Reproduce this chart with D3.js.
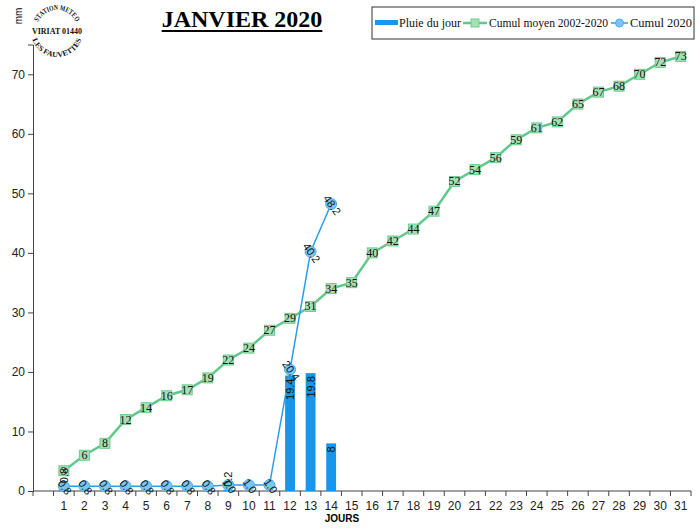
<!DOCTYPE html>
<html><head><meta charset="utf-8">
<script src="https://cdn.jsdelivr.net/npm/d3@7"></script>
<style>body{margin:0;background:#fff}svg{display:block}</style>
</head><body><svg id="c" width="700" height="530"></svg>
<script>
const days = ["1","2","3","4","5","6","7","8","9","10","11","12","13","14","15","16","17","18","19","20","21","22","23","24","25","26","27","28","29","30","31"];
const rain = [0.8,null,null,null,null,null,null,null,0.2,null,null,19.4,19.8,8,null,null,null,null,null,null,null,null,null,null,null,null,null,null,null,null,null];
const cumulMoyen = [3.4,6,8,12,14,16,17,19,22,24,27,29,31,34,35,40,42,44,47,52,54,56,59,61,62,65,67,68,70,72,73];
const cumul2020 = [0.8,0.8,0.8,0.8,0.8,0.8,0.8,0.8,1.0,1.0,1.0,20.4,40.2,48.2];
const yTicks = [0,10,20,30,40,50,60,70];
const title = "JANVIER 2020";
const legendLabels = ["Pluie du jour","Cumul moyen 2002-2020","Cumul 2020"];
const logoTexts = ["STATION METEO","VIRIAT 01440","LES FAUVETTES"];

const svg = d3.select("#c");
const L=33, R=691, B=491, yMax=75, pxPerUnit=5.953;
const x = d3.scaleBand().domain([""].concat(days)).range([L,R]).padding(0);
const y = d3.scaleLinear().domain([0,yMax]).range([B, B - yMax*pxPerUnit]);
const cx = d => x(d) + x.bandwidth()/2;

const blue="#1696ec", blueLine="#2a9de8", blueFill="#78c6f2", green="#5fc98b", greenFill="#a4e0b4", greenStroke="#6fcc90";

// Axes
const yAxis = d3.axisLeft(y).tickValues(yTicks).tickSize(5).tickPadding(3).tickFormat(d3.format("d"));
const gy = svg.append("g").attr("transform",`translate(${L},0)`).call(yAxis);
gy.select(".domain").attr("stroke","#444");
gy.selectAll(".tick line").attr("stroke","#444");
gy.selectAll("text").attr("font-family","Liberation Sans, Arial").attr("font-size",12).attr("fill","#222");

const gx = svg.append("g").attr("transform",`translate(0,${B})`);
gx.append("line").attr("x1",L).attr("x2",R).attr("stroke","#444");
const bounds = x.domain().map(d=>x(d)).concat([R]);
gx.selectAll("line.t").data(bounds).join("line").attr("class","t")
  .attr("x1",d=>d).attr("x2",d=>d).attr("y1",0).attr("y2",5).attr("stroke","#444");
gx.selectAll("text").data(days).join("text")
  .attr("x",d=>cx(d)).attr("y",19).attr("text-anchor","middle")
  .attr("font-family","Liberation Sans, Arial").attr("font-size",12).attr("fill","#222").text(d=>d);

svg.append("text").attr("x",342).attr("y",522).attr("text-anchor","middle")
  .attr("font-family","Liberation Sans, Arial").attr("font-weight","bold").attr("font-size",10).text("JOURS");
svg.append("text").attr("transform","translate(22,16) rotate(-90)").attr("text-anchor","middle")
  .attr("font-family","Liberation Sans, Arial").attr("font-size",10).text("mm");

// Bars
const barData = days.map((d,i)=>({d,v:rain[i]})).filter(o=>o.v!=null);
const bw = x.bandwidth()*0.48;
svg.append("g").selectAll("rect").data(barData).join("rect")
  .attr("x",o=>cx(o.d)-bw/2).attr("width",bw)
  .attr("y",o=>y(o.v)).attr("height",o=>B-y(o.v)).attr("fill",blue);

// Green line
const gdata = days.map((d,i)=>({d,v:cumulMoyen[i]}));
svg.append("path").datum(gdata).attr("fill","none").attr("stroke",green).attr("stroke-width",2.5)
  .attr("d",d3.line().x(o=>cx(o.d)).y(o=>y(o.v)));
svg.append("g").selectAll("rect").data(gdata).join("rect")
  .attr("x",o=>cx(o.d)-5).attr("y",o=>y(o.v)-5).attr("width",10).attr("height",10)
  .attr("fill",greenFill).attr("stroke",greenStroke).attr("stroke-width",1);

// Blue line
const bdata = cumul2020.map((v,i)=>({d:days[i],v}));
svg.append("path").datum(bdata).attr("fill","none").attr("stroke",blueLine).attr("stroke-width",1.5)
  .attr("d",d3.line().x(o=>cx(o.d)).y(o=>y(o.v)));
svg.append("g").selectAll("circle").data(bdata).join("circle")
  .attr("cx",o=>cx(o.d)).attr("cy",o=>y(o.v)).attr("r",5.5)
  .attr("fill",blueFill).attr("stroke","#4aaeea").attr("stroke-width",1);

// Labels
svg.append("g").selectAll("text").data(gdata).join("text")
  .attr("x",o=>cx(o.d)).attr("y",o=>y(o.v)+4).attr("text-anchor","middle")
  .attr("font-family","Liberation Serif, Times New Roman").attr("font-size",12).attr("fill","#111")
  .text(o=>d3.format(".0f")(o.v));
svg.append("g").selectAll("text").data(bdata).join("text")
  .attr("transform",o=>`translate(${cx(o.d)+1},${y(o.v)+1}) rotate(55)`)
  .attr("text-anchor","middle").attr("dy","0.35em")
  .attr("font-family","Liberation Sans, Arial").attr("font-size",11).attr("fill","#111")
  .text(o=>d3.format(".1f")(o.v));
svg.append("g").selectAll("text").data(barData).join("text")
  .attr("transform",o=>{const big=(B-y(o.v))>25; return `translate(${cx(o.d)+4},${big? y(o.v)+3 : y(o.v)-3}) rotate(-90)`;})
  .attr("text-anchor",o=>(B-y(o.v))>25?"end":"start")
  .attr("font-family","Liberation Sans, Arial").attr("font-size",11).attr("fill","#111")
  .text(o=>o.v);

// Title
const t = svg.append("text").attr("x",242).attr("y",27).attr("text-anchor","middle")
  .attr("font-family","Liberation Serif, Times New Roman").attr("font-weight","bold").attr("font-size",24).text(title);
const tw = t.node().getComputedTextLength();
svg.append("rect").attr("x",242-tw/2).attr("y",30).attr("width",tw).attr("height",2).attr("fill","#000");

// Legend
const lg = svg.append("g");
lg.append("rect").attr("x",372).attr("y",7).attr("width",322).attr("height",32).attr("fill","#fff").attr("stroke","#333").attr("stroke-width",1);
const ly = 23;
lg.append("rect").attr("x",375).attr("y",ly-3).attr("width",23).attr("height",5).attr("fill",blue);
const lt = (xx,s,w)=>lg.append("text").attr("x",xx).attr("y",ly+4).attr("font-family","Liberation Serif, Times New Roman").attr("font-size",12).attr("fill","#111")
  .attr("textLength",w).attr("lengthAdjust","spacingAndGlyphs").text(s);
lt(399,legendLabels[0],62);
lg.append("line").attr("x1",463).attr("x2",487).attr("y1",ly).attr("y2",ly).attr("stroke",green).attr("stroke-width",2.5);
lg.append("rect").attr("x",471).attr("y",ly-4).attr("width",8).attr("height",8).attr("fill",greenFill).attr("stroke",greenStroke);
lt(489,legendLabels[1],119);
lg.append("line").attr("x1",611).attr("x2",628).attr("y1",ly).attr("y2",ly).attr("stroke",blueLine).attr("stroke-width",1.5);
lg.append("circle").attr("cx",619.5).attr("cy",ly).attr("r",4).attr("fill",blueFill).attr("stroke","#4aaeea");
lt(630,legendLabels[2],62);

// Logo
const LCX=57, LCY=31;
const pt = (r,deg)=>[LCX + r*Math.cos(deg*Math.PI/180), LCY + r*Math.sin(deg*Math.PI/180)];
const defs = svg.append("defs");
const rt=21, rb=26;
const [ts0,ts1]=[pt(rt,205),pt(rt,335)];
defs.append("path").attr("id","arcTop").attr("d",`M ${ts0[0]} ${ts0[1]} A ${rt} ${rt} 0 0 1 ${ts1[0]} ${ts1[1]}`);
const [bs0,bs1]=[pt(rb,164),pt(rb,16)];
defs.append("path").attr("id","arcBot").attr("d",`M ${bs0[0]} ${bs0[1]} A ${rb} ${rb} 0 0 0 ${bs1[0]} ${bs1[1]}`);
const logoFont = s=>s.attr("font-family","Liberation Serif, Times New Roman").attr("font-weight","bold").attr("font-size",7.5).attr("fill","#111");
svg.append("text").call(logoFont).append("textPath").attr("href","#arcTop").attr("startOffset","50%").attr("text-anchor","middle")
  .attr("textLength",47).attr("lengthAdjust","spacingAndGlyphs").text(logoTexts[0]);
svg.append("text").call(logoFont).append("textPath").attr("href","#arcBot").attr("startOffset","50%").attr("text-anchor","middle")
  .attr("textLength",64).attr("lengthAdjust","spacingAndGlyphs").text(logoTexts[2]);
svg.append("text").call(logoFont).attr("x",LCX).attr("y",LCY+3).attr("text-anchor","middle")
  .attr("textLength",50).attr("lengthAdjust","spacingAndGlyphs").text(logoTexts[1]);
</script></body></html>
